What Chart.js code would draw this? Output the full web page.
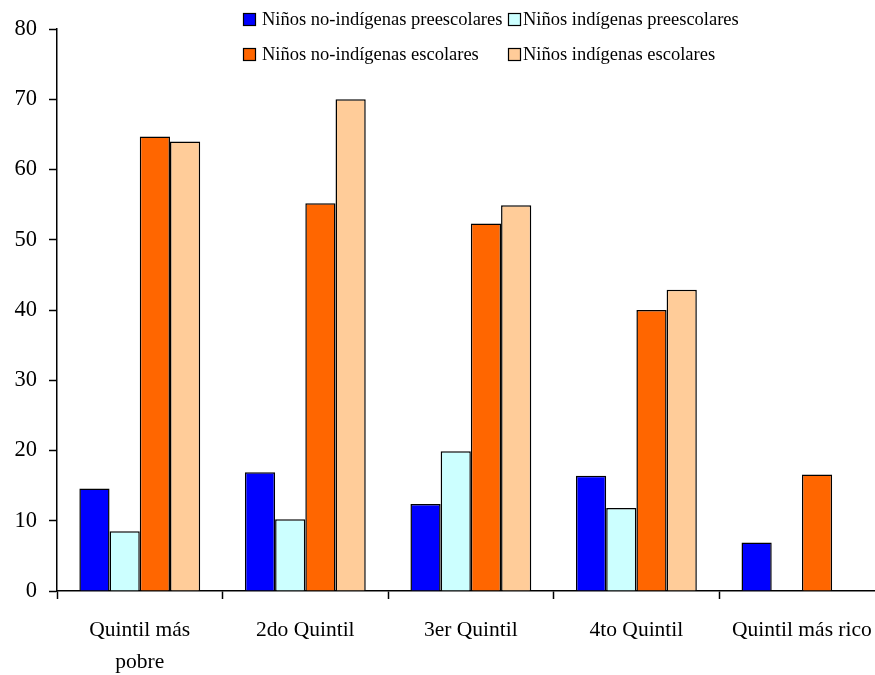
<!DOCTYPE html>
<html>
<head>
<meta charset="utf-8">
<script src="https://cdn.jsdelivr.net/npm/chart.js@4.4.1/dist/chart.umd.min.js"></script>
<style>
  html, body { margin: 0; padding: 0; background: #fff; overflow: hidden; }
  #wrap { position: absolute; left: 0; top: 0; width: 887px; height: 675px; }
</style>
</head>
<body>
<div id="wrap"><canvas id="c"></canvas></div>
<script>
const categories = [["Quintil más", "pobre"], "2do Quintil", "3er Quintil", "4to Quintil", "Quintil más rico"];
const seriesNames = ["Niños no-indígenas preescolares", "Niños indígenas preescolares", "Niños no-indígenas escolares", "Niños indígenas escolares"];
const noIndigPreesc = [14.6, 16.9, 12.4, 16.4, 6.9];
const indigPreesc = [8.5, 10.2, 19.9, 11.8, null];
const noIndigEsc = [64.7, 55.2, 52.3, 40.0, 16.6];
const indigEsc = [64.0, 70.0, 54.9, 42.9, null];
const yTicks = [0, 10, 20, 30, 40, 50, 60, 70, 80];

const colors = ["#0000FF", "#CCFFFF", "#FF6600", "#FFCC99"];
const values = [noIndigPreesc, indigPreesc, noIndigEsc, indigEsc];
const SERIF = '"Liberation Serif", "Times New Roman", serif';

const legendPlugin = {
  id: 'customLegend',
  afterDraw(chart) {
    const ctx = chart.ctx;
    const pos = [[243, 19], [508, 19], [243, 54], [508, 54]];
    const textOff = [19, 15, 19, 15];
    ctx.save();
    ctx.font = '18.5px ' + SERIF;
    ctx.textBaseline = 'middle';
    ctx.textAlign = 'left';
    chart.data.datasets.forEach((ds, i) => {
      const [x, y] = pos[i];
      ctx.fillStyle = ds.backgroundColor;
      ctx.fillRect(x, y - 6, 13, 13);
      ctx.lineWidth = 1.2;
      ctx.strokeStyle = '#000';
      ctx.strokeRect(x + 0.5, y - 5.5, 12, 12);
      ctx.fillStyle = '#000';
      ctx.fillText(ds.label, x + textOff[i], y + 1);
    });
    ctx.restore();
  }
};

new Chart(document.getElementById('c'), {
  type: 'bar',
  data: {
    labels: categories,
    datasets: values.map((v, i) => ({
      label: seriesNames[i],
      data: v,
      backgroundColor: colors[i],
      borderColor: '#000',
      borderWidth: 1.5,
      borderSkipped: 'bottom',
      categoryPercentage: 0.73,
      barPercentage: 1.0
    }))
  },
  options: {
    responsive: true,
    maintainAspectRatio: false,
    animation: false,
    layout: { padding: { top: 29, left: 0, right: 2, bottom: 0 } },
    plugins: {
      legend: { display: false },
      tooltip: { enabled: false }
    },
    scales: {
      x: {
        afterFit(scale) { scale.height = 84; },
        grid: {
          display: true,
          offset: true,
          drawOnChartArea: false,
          drawTicks: true,
          tickLength: 8,
          tickColor: '#000',
          tickWidth: 1.5
        },
        border: { display: true, color: '#000', width: 1.5 },
        ticks: {
          color: '#000',
          padding: 15,
          maxRotation: 0,
          autoSkip: false,
          font: { family: SERIF, size: 21.5, lineHeight: 1.5 }
        }
      },
      y: {
        min: 0,
        max: 80,
        afterFit(scale) { scale.width = 57; },
        afterBuildTicks(scale) { scale.ticks = yTicks.map(v => ({ value: v })); },
        grid: {
          display: true,
          drawOnChartArea: false,
          drawTicks: true,
          tickLength: 8,
          tickColor: '#000',
          tickWidth: 1.5
        },
        border: { display: true, color: '#000', width: 1.5 },
        ticks: {
          color: '#000',
          padding: 12,
          font: { family: SERIF, size: 22.5 }
        }
      }
    }
  },
  plugins: [legendPlugin]
});
</script>
</body>
</html>
